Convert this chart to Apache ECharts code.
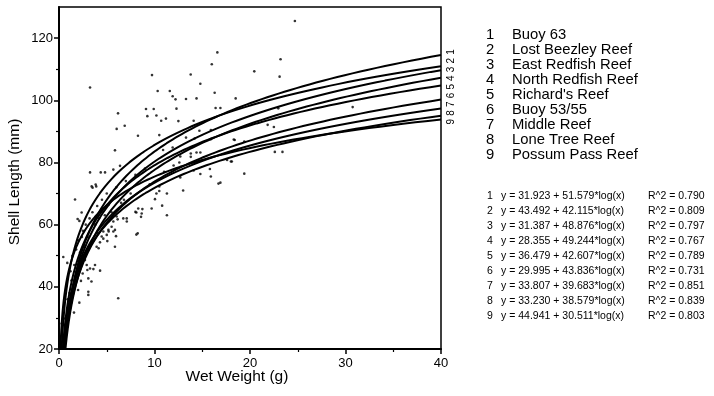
<!DOCTYPE html>
<html>
<head>
<meta charset="utf-8">
<script src="https://cdn.jsdelivr.net/npm/echarts@6/dist/echarts.min.js"></script>
<style>
  html, body { margin: 0; padding: 0; background: #fff; }
  #chart { width: 714px; height: 396px; }
</style>
</head>
<body>
<div id="chart"></div>
<script>
// Oyster reefs: shell length vs wet weight, with per-reef log fits
const reefNames = [
  'Buoy 63', 'Lost Beezley Reef', 'East Redfish Reef', 'North Redfish Reef',
  "Richard's Reef", 'Buoy 53/55', 'Middle Reef', 'Lone Tree Reef', 'Possum Pass Reef'
];
// y = a + b*log10(x)
const fitA = [31.923, 43.492, 31.387, 28.355, 36.479, 29.995, 33.807, 33.230, 44.941];
const fitB = [51.579, 42.115, 48.876, 49.244, 42.607, 43.836, 39.683, 38.579, 30.511];
const fitR2 = ['0.790', '0.809', '0.797', '0.767', '0.789', '0.731', '0.851', '0.839', '0.803'];

const xTicks = [0, 10, 20, 30, 40];
const yTicks = [20, 40, 60, 80, 100, 120];

// individual oysters: [wet weight (g), shell length (mm)]
const samples = [
  [3.25,104.1],[6.18,95.8],[9.11,97.2],[9.92,97.2],[9.25,94.9],[9.74,108.1],[16.58,115.4],[16.0,111.6],
  [13.79,108.3],[20.45,109.3],[14.8,105.3],[10.33,103.0],[11.6,103.0],[11.9,101.3],[12.2,100.3],[13.3,100.4],
  [14.4,100.6],[16.3,102.4],[18.5,100.6],[12.3,97.3],[16.4,97.5],[16.9,97.5],[10.2,95.1],[11.2,94.1],
  [10.7,93.4],[12.5,93.3],[14.1,93.4],[24.7,125.5],[23.2,113.2],[23.1,107.6],[30.75,97.8],[22.96,97.4],
  [21.85,92.1],[22.5,91.4],[18.3,87.4],[19.4,86.7],[22.6,83.4],[23.4,83.4],[18.1,80.3],[19.4,76.4],
  [6.04,90.8],[6.88,91.8],[8.27,88.6],[10.5,88.8],[14.7,90.2],[15.9,90.4],[3.25,76.8],[4.37,76.8],
  [4.82,76.8],[5.69,77.7],[5.86,83.9],[6.39,78.9],[16.9,73.5],[17.6,80.8],[14.4,83.2],[13.8,81.8],
  [3.84,72.9],[3.52,71.9],[1.68,68.1],[2.37,63.9],[1.95,61.8],[2.13,61.2],[6.14,61.7],[7.09,62.0],
  [8.1,63.9],[8.73,65.0],[8.59,62.5],[8.24,57.2],[5.51,59.3],[5.17,58.3],[10.05,68.2],
  [13.3,88.0],[14.2,87.7],[14.8,83.2],[13.8,82.9],[12.7,81.9],[12.6,80.0],[10.9,84.0],[11.9,84.8],
  [15.9,87.5],[18.4,87.2],[15.8,77.9],[14.8,76.3],[14.1,77.4],[15.9,75.5],[16.7,73.2],[18.0,80.3],
  [12.7,75.2],[13.0,71.0],[11.3,70.0],[10.5,70.8],[10.2,70.0],[10.8,66.1],[9.7,65.2],[11.3,63.0],[10.5,72.3],
  [8.3,65.2],[8.66,63.6],[8.0,64.1],[8.1,56.8],[7.1,61.0],[6.73,62.0],[6.04,62.6],[5.69,61.0],
  [5.86,58.3],[5.0,56.7],[5.97,56.3],[5.06,54.7],[5.86,52.9],[4.15,52.4],[4.29,54.3],[4.47,56.2],[6.2,36.3],
  [2.97,45.4],[3.25,45.9],[3.6,45.7],[4.3,45.2],[3.77,47.0],[3.07,42.7],[3.07,37.4],[3.07,38.4],
  [2.3,41.9],[2.48,44.3],[2.0,39.0],[1.5,39.5],[1.68,41.7],[1.57,31.7],[2.13,34.9],[0.87,47.7],
  [0.45,49.6],[2.2,48.6],[2.72,48.6],[4.01,57.2],[3.42,72.3],[3.9,72.3],[5.17,66.3],
  [3.94,52.9],[2.9,47.0],[3.4,41.7],[4.64,55.5],[5.69,57.8],[5.2,57.8],[4.64,57.8],
  [0.63,29.8],[0.28,28.2],[0.98,33.6],
  [1.2,45],[1.4,50],[1.8,52],[2.0,55],[2.5,58],[2.8,60],[3.2,62],[3.5,64],[4.0,66],[4.5,68],
  [5.0,70],[6.0,72],[7.0,74],[8.0,76],[9.0,78],[2.6,53],[3.0,56],[3.8,60],[4.2,62],[5.5,64],
  [6.5,67],[7.5,70],[1.1,38],[1.3,42],[2.2,51],[4.8,63],[6.8,68],[9.5,73],[11,77],[12,79],
  [0.9,36],[1.6,47],[2.4,56]
];

const Y_MIN = 20, Y_MAX = 130, X_MAX = 40;

function fitCurve(a, b) {
  const x0 = Math.pow(10, (Y_MIN - a) / b);
  const pts = [];
  const n = 160;
  for (let i = 0; i <= n; i++) {
    const x = x0 * Math.pow(X_MAX / x0, i / n);
    pts.push([x, a + b * Math.log10(x)]);
  }
  return pts;
}

const FONT = '"Liberation Sans", Arial, Helvetica, sans-serif';

const series = [{
  type: 'scatter',
  data: samples,
  symbolSize: 2.6,
  itemStyle: { color: '#000' },
  silent: true,
  z: 3
}];
fitA.forEach((a, i) => {
  series.push({
    type: 'line',
    name: reefNames[i],
    data: fitCurve(a, fitB[i]),
    showSymbol: false,
    lineStyle: { color: '#000', width: 2 },
    silent: true,
    z: 4
  });
});

const graphics = [];
// reef key
reefNames.forEach((nm, i) => {
  const y = 36 + i * 15.1;
  graphics.push({ type: 'text', left: 486, top: y - 9, style: { text: String(i + 1), font: '14.8px ' + FONT, fill: '#000' } });
  graphics.push({ type: 'text', left: 512, top: y - 9, style: { text: nm, font: '14.8px ' + FONT, fill: '#000' } });
});
// fitted equations
fitA.forEach((a, i) => {
  const y = 197 + i * 15;
  const eq = 'y = ' + a.toFixed(3) + ' + ' + fitB[i].toFixed(3) + '*log(x)';
  graphics.push({ type: 'text', left: 487, top: y - 6, style: { text: String(i + 1), font: '10.5px ' + FONT, fill: '#000' } });
  graphics.push({ type: 'text', left: 501, top: y - 6, style: { text: eq, font: '10.5px ' + FONT, fill: '#000' } });
  graphics.push({ type: 'text', left: 648, top: y - 6, style: { text: 'R^2 = ' + fitR2[i], font: '10.5px ' + FONT, fill: '#000' } });
});
// curve numbers beside the right edge
for (let i = 0; i < 9; i++) {
  graphics.push({
    type: 'text', x: 451, y: 52 + i * 8.7, rotation: Math.PI / 2,
    style: { text: String(i + 1), font: '10px ' + FONT, fill: '#000', align: 'center', verticalAlign: 'middle' }
  });
}
// axis titles
graphics.push({
  type: 'text', x: 237, y: 377,
  style: { text: 'Wet Weight (g)', font: '15.5px ' + FONT, fill: '#000', align: 'center', verticalAlign: 'middle' }
});
graphics.push({
  type: 'text', x: 15, y: 182, rotation: Math.PI / 2,
  style: { text: 'Shell Length (mm)', font: '15.5px ' + FONT, fill: '#000', align: 'center', verticalAlign: 'middle' }
});

const chart = echarts.init(document.getElementById('chart'), null, { renderer: 'canvas' });
chart.setOption({
  animation: false,
  backgroundColor: '#fff',
  grid: { left: 59, right: 273, top: 7, bottom: 47, show: true, borderColor: '#000', borderWidth: 1.5, backgroundColor: 'transparent' },
  xAxis: {
    type: 'value', min: 0, max: X_MAX, interval: 10,
    axisLine: { lineStyle: { color: '#000', width: 2 } },
    axisTick: { show: true, length: 5, lineStyle: { color: '#000', width: 1.5 }, customValues: xTicks },
    minorTick: { show: true, splitNumber: 2, length: 3, lineStyle: { color: '#000', width: 1.2 } },
    axisLabel: { color: '#000', fontSize: 13, fontFamily: FONT, margin: 8, customValues: xTicks },
    splitLine: { show: false }
  },
  yAxis: {
    type: 'value', min: Y_MIN, max: Y_MAX, interval: 20,
    axisLine: { lineStyle: { color: '#000', width: 2 } },
    axisTick: { show: true, length: 5, lineStyle: { color: '#000', width: 1.5 }, customValues: yTicks },
    minorTick: { show: true, splitNumber: 2, length: 3, lineStyle: { color: '#000', width: 1.2 } },
    axisLabel: { color: '#000', fontSize: 13, fontFamily: FONT, margin: 6, customValues: yTicks },
    splitLine: { show: false }
  },
  series: series,
  graphic: graphics
});
</script>
</body>
</html>
